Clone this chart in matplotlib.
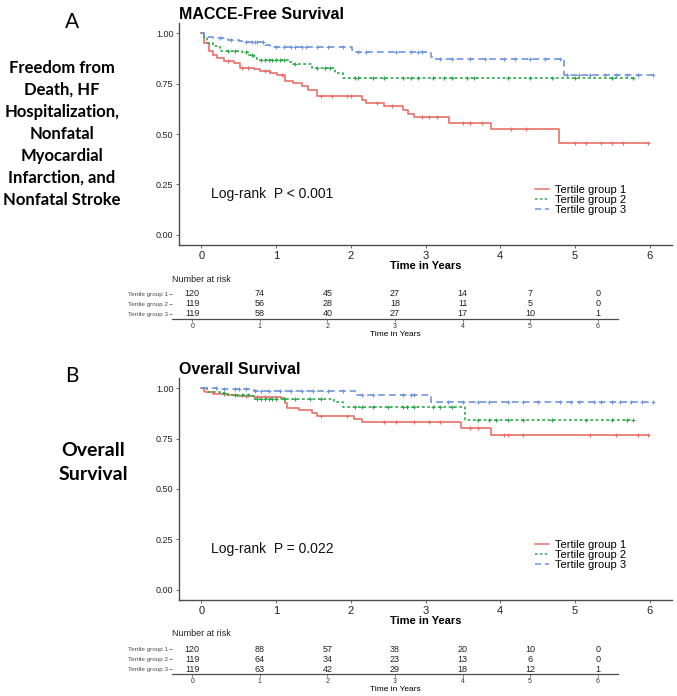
import numpy as np
import matplotlib
matplotlib.use("Agg")
import matplotlib.pyplot as plt
from matplotlib.lines import Line2D

W, H = 677, 696

# ---------------- data ----------------
groups = ["Tertile group 1", "Tertile group 2", "Tertile group 3"]
years = [0, 1, 2, 3, 4, 5, 6]

# Panel A: MACCE-free survival (step times / survival after step, last follow-up)
a1_t = [0.03, 0.10, 0.16, 0.21, 0.30, 0.43, 0.52, 0.70, 0.79, 0.92, 1.01, 1.12, 1.23, 1.35, 1.43, 1.55,
        2.15, 2.21, 2.44, 2.70, 2.77, 2.84, 3.31, 3.88, 4.79]
a1_s = [0.95, 0.91, 0.89, 0.876, 0.863, 0.85, 0.827, 0.82, 0.81, 0.80, 0.79, 0.764, 0.753, 0.74, 0.72, 0.687,
        0.67, 0.653, 0.637, 0.62, 0.60, 0.584, 0.554, 0.525, 0.455]
a1_end = 5.98
a2_t = [0.03, 0.08, 0.16, 0.25, 0.54, 0.63, 0.70, 0.74, 1.17, 1.23, 1.48, 1.79, 1.90]
a2_s = [0.975, 0.95, 0.934, 0.913, 0.904, 0.893, 0.876, 0.868, 0.856, 0.847, 0.827, 0.80, 0.777]
a2_end = 5.78
a3_t = [0.03, 0.16, 0.36, 0.50, 0.54, 0.85, 0.92, 2.01, 2.06, 3.08, 3.10, 4.86]
a3_s = [0.983, 0.975, 0.967, 0.959, 0.954, 0.942, 0.929, 0.914, 0.906, 0.884, 0.871, 0.79]
a3_end = 6.04

a1_c = [0.35, 0.55, 0.62, 0.85, 0.9, 1.08, 1.6, 1.75, 1.95, 2.0, 2.35, 2.55, 2.95, 3.05, 3.15, 3.5, 3.6,
        3.75, 4.15, 4.35, 5.0, 5.15, 5.35, 5.5, 5.65, 5.98]
a2_c = [0.35, 0.45, 0.6, 0.68, 0.8, 0.85, 0.9, 0.95, 1.0, 1.05, 1.1, 1.25, 1.55, 1.65, 1.72, 2.05, 2.1,
        2.3, 2.45, 2.7, 2.8, 2.9, 3.1, 3.25, 3.35, 3.55, 3.65, 4.1, 4.4, 4.7, 5.0, 5.5, 5.78]
a3_c = [0.25, 0.4, 0.6, 0.68, 0.72, 0.75, 0.82, 1.0, 1.1, 1.2, 1.25, 1.35, 1.4, 1.55, 1.7, 1.9, 2.1, 2.2,
        2.6, 2.8, 2.9, 2.95, 3.2, 3.35, 3.6, 3.8, 4.05, 4.2, 4.4, 4.6, 4.8, 4.9, 5.05, 5.2, 5.4, 5.55, 5.7,
        5.85, 6.04]

# Panel B: overall survival
b1_t = [0.03, 0.05, 0.16, 0.34, 0.48, 0.70, 1.06, 1.12, 1.15, 1.30, 1.48, 1.55, 2.04, 2.15, 3.48, 3.88]
b1_s = [0.988, 0.979, 0.972, 0.967, 0.962, 0.955, 0.949, 0.926, 0.901, 0.889, 0.876, 0.863, 0.848, 0.831,
        0.802, 0.769]
b1_end = 5.98
b2_t = [0.08, 0.25, 0.36, 0.65, 0.70, 1.77, 1.90, 3.53]
b2_s = [0.983, 0.975, 0.967, 0.959, 0.947, 0.93, 0.904, 0.843]
b2_end = 5.78
b3_t = [0.21, 0.70, 2.06, 3.08]
b3_s = [0.995, 0.988, 0.967, 0.929]
b3_end = 6.04

b1_c = [0.3, 0.6, 0.75, 0.85, 1.6, 1.95, 2.45, 2.6, 2.85, 3.05, 3.2, 3.6, 3.7, 4.05, 4.1, 4.3, 5.2, 5.55,
        5.85, 5.98]
b2_c = [0.3, 0.45, 0.55, 0.62, 0.75, 0.8, 0.85, 0.9, 0.95, 1.0, 1.1, 1.25, 1.45, 1.6, 2.05, 2.15, 2.3,
        2.5, 2.7, 2.75, 2.85, 3.1, 3.2, 3.35, 3.7, 3.85, 3.95, 4.1, 4.3, 4.7, 5.15, 5.5, 5.7, 5.78]
b3_c = [0.2, 0.3, 0.45, 0.5, 0.6, 0.72, 0.8, 0.9, 1.05, 1.2, 1.35, 1.5, 1.7, 1.9, 2.15, 2.3, 2.7, 2.8,
        2.85, 3.3, 3.5, 3.7, 3.85, 4.1, 4.3, 4.5, 4.8, 4.95, 5.05, 5.25, 5.35, 5.5, 5.6, 5.75, 5.9, 6.04]

risk_a = [[120, 74, 45, 27, 14, 7, 0],
          [119, 56, 28, 18, 11, 5, 0],
          [119, 58, 40, 27, 17, 10, 1]]
risk_b = [[120, 88, 57, 38, 20, 10, 0],
          [119, 64, 34, 23, 13, 6, 0],
          [119, 63, 42, 29, 18, 12, 1]]

# ---------------- style ----------------
colors = ["#E8716A", "#2DA84A", "#6F95DE"]
styles = ["-", (0, (1.6, 1.6)), (0, (4, 2.5))]
FONT = "Liberation Sans"
plt.rcParams["font.family"] = [FONT, "DejaVu Sans"]
AXC = "#4D4D4D"

fig = plt.figure(figsize=(W / 100, H / 100), dpi=100)


def fbox(x0, y0, x1, y1):
    return [x0 / W, 1 - y1 / H, (x1 - x0) / W, (y1 - y0) / H]


def km(ax, t, s, end, cens, color, ls):
    tt = np.array([0.0] + list(t) + [end])
    ss = np.array([1.0] + list(s) + [s[-1]])
    ax.step(tt, ss, where="post", color=color, ls=ls, lw=1.2)
    c = np.array(cens)
    idx = np.searchsorted(tt, c, side="right") - 1
    ax.plot(c, ss[idx], ls="none", marker="|", ms=3.5, mew=0.8, color=color)
    ax.plot(c, ss[idx], ls="none", marker="_", ms=3.5, mew=0.8, color=color)


def main_panel(box, title, curves, ptext):
    ax = fig.add_axes(fbox(*box))
    for (t, s, end, cens), col, ls in zip(curves, colors, styles):
        km(ax, t, s, end, cens, col, ls)
    ax.set_xlim(-0.3, 6.3)
    ax.set_ylim(-0.05, 1.05)
    ax.set_xticks(years)
    ax.set_yticks([0, 0.25, 0.5, 0.75, 1.0])
    ax.set_yticklabels(["0.00", "0.25", "0.50", "0.75", "1.00"])
    for sp in ["top", "right"]:
        ax.spines[sp].set_visible(False)
    for sp in ["left", "bottom"]:
        ax.spines[sp].set_color(AXC)
        ax.spines[sp].set_linewidth(1.0)
    ax.tick_params(axis="y", labelsize=6.5, colors=AXC, length=2.5, width=0.6, pad=1.5)
    ax.tick_params(axis="x", labelsize=8, colors=AXC, length=2.5, width=0.6, pad=1.5)
    for lab in ax.get_xticklabels() + ax.get_yticklabels():
        lab.set_color("#222222")
    ax.set_xlabel("Time in Years", fontsize=8, fontweight="bold", labelpad=0)
    ax.set_title(title, fontsize=11.5, fontweight="bold", loc="left", x=0.0, pad=3)
    ax.text(0.065, 0.23, ptext, transform=ax.transAxes, fontsize=10, ha="left", va="center", color="#111111")
    handles = [Line2D([0], [0], color=c, ls=l, lw=1.1) for c, l in zip(colors, styles)]
    ax.legend(handles, groups, loc="lower left", bbox_to_anchor=(0.71, 0.112), frameon=False, fontsize=8,
              handlelength=1.3, handletextpad=0.5, labelspacing=0.0, borderpad=0)
    return ax


def risk_panel(box, data, label_y):
    ax = fig.add_axes(fbox(*box))
    ax.set_xlim(-0.3, 6.3)
    ax.set_ylim(-0.5, 2.7)
    for i, row in enumerate(data):
        yv = 2 - i
        for x, v in zip(years, row):
            ax.text(x, yv, str(v), ha="center", va="center", fontsize=6.5, color="#222222")
    ax.set_yticks([2, 1, 0])
    ax.set_yticklabels(groups, fontsize=4.6)
    for lab, c in zip(ax.get_yticklabels(), colors):
        lab.set_color(c)
    ax.set_xticks(years)
    ax.tick_params(axis="x", labelsize=5, colors=AXC, length=2, width=0.5, pad=1)
    ax.tick_params(axis="y", colors=AXC, length=2, width=0.5, pad=1)
    for lab in ax.get_xticklabels():
        lab.set_color("#333333")
    for sp in ["top", "right", "left"]:
        ax.spines[sp].set_visible(False)
    ax.spines["bottom"].set_color(AXC)
    ax.spines["bottom"].set_linewidth(0.9)
    ax.set_xlabel("Time in Years", fontsize=6, labelpad=0.5)
    fig.text(172 / W, 1 - label_y / H, "Number at risk", fontsize=6.5, ha="left", va="center", color="#222222")
    return ax


main_panel((179, 23, 672, 245), "MACCE-Free Survival",
           [(a1_t, a1_s, a1_end, a1_c), (a2_t, a2_s, a2_end, a2_c), (a3_t, a3_s, a3_end, a3_c)],
           "Log-rank  P < 0.001")
risk_panel((172, 287, 618, 319), risk_a, 279)

main_panel((179, 378, 672, 600), "Overall Survival",
           [(b1_t, b1_s, b1_end, b1_c), (b2_t, b2_s, b2_end, b2_c), (b3_t, b3_s, b3_end, b3_c)],
           "Log-rank  P = 0.022")
risk_panel((172, 642, 618, 674), risk_b, 634)

# left annotations
LF = ["Lato", "DejaVu Sans"]
fig.text(72 / W, 1 - 22 / H, "A", fontsize=15, ha="center", va="center", family=LF)
fig.text(72 / W, 1 - 376 / H, "B", fontsize=15, ha="center", va="center", family=LF)
lines_a = ["Freedom from", "Death, HF", "Hospitalization,", "Nonfatal", "Myocardial", "Infarction, and",
           "Nonfatal Stroke"]
for i, ln in enumerate(lines_a):
    fig.text(62 / W, 1 - (68 + i * 22) / H, ln, fontsize=12, fontweight="bold", ha="center", va="center",
             family=LF)
for i, ln in enumerate(["Overall", "Survival"]):
    fig.text(93 / W, 1 - (451 + i * 24) / H, ln, fontsize=14, fontweight="bold", ha="center", va="center",
             family=LF)

fig.savefig("out.png", dpi=100)
